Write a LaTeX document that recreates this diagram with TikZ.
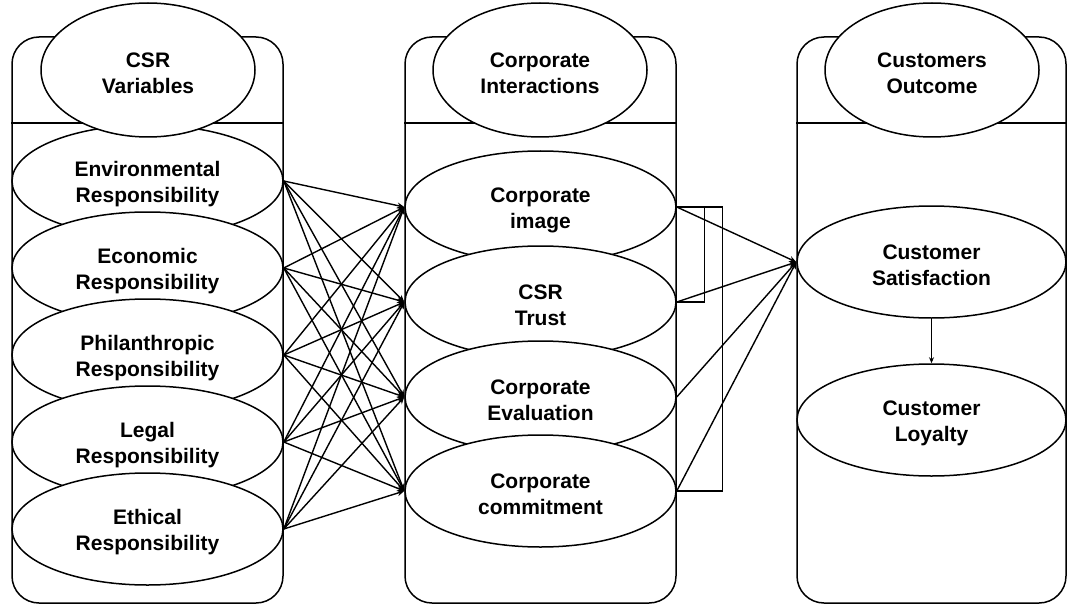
\documentclass[tikz,border=0pt]{standalone}
\usepackage{fontspec}
\setmainfont{Liberation Sans}
\usetikzlibrary{shapes.geometric,arrows.meta}
\newcommand\lift{\rule{0pt}{22pt}}
\begin{document}
\begin{tikzpicture}[x=1pt,y=-1pt,
  lane/.style={draw,line width=1.5pt,rounded corners=27pt,minimum width=271pt,minimum height=566pt,inner sep=0pt},
  txt/.style={align=center,font=\fontsize{21}{26}\selectfont\bfseries},
  hdr/.style={ellipse,draw,fill=white,line width=1.5pt,minimum width=214pt,minimum height=134pt,inner sep=0pt,txt},
  item/.style={ellipse,draw,fill=white,line width=1.5pt,minimum width=271pt,minimum height=112pt,inner sep=0pt,txt},
  conn/.style={line width=1.4pt,-{Stealth[length=7pt,width=6pt]}},
  plain/.style={line width=1.4pt}]
\useasboundingbox (0,0) rectangle (1067,604);
% lanes
\node[lane] (laneA) at (147.5,320) {};
\node[lane] (laneB) at (540.5,320) {};
\node[lane,minimum width=269pt] (laneC) at (931.5,320) {};
\foreach \l in {laneA,laneB,laneC}{
  \draw[line width=1.5pt] (\l.west |- 0,123) -- (\l.east |- 0,123);
}
% left column
\node[item] (L1) at (147.5,181) {\lift Environmental\\Responsibility};
\node[hdr] (HA) at (148,70) {\lift CSR\\Variables};
\node[item] (L2) at (147.5,268) {\lift Economic\\Responsibility};
\node[item] (L3) at (147.5,355) {\lift Philanthropic\\Responsibility};
\node[item] (L4) at (147.5,442) {\lift Legal\\Responsibility};
\node[item] (L5) at (147.5,529) {\lift Ethical\\Responsibility};
% middle column
\node[hdr] (HB) at (540,70) {\lift Corporate\\Interactions};
\node[item] (M1) at (540.5,207) {\lift Corporate\\image};
\node[item] (M2) at (540.5,302) {\lift CSR\\Trust};
\node[item] (M3) at (540.5,397) {\lift Corporate\\Evaluation};
\node[item] (M4) at (540.5,491) {\lift Corporate\\commitment};
% right column
\node[hdr] (HC) at (932,70) {\lift Customers\\Outcome};
\node[item,minimum width=269pt] (S) at (931.5,262) {\lift Customer\\Satisfaction};
\node[item,minimum width=269pt] (Y) at (931.5,420) {\lift Customer\\Loyalty};
% connectors
\foreach \i in {1,...,5}{
  \foreach \j in {1,...,4}{
    \draw[conn] (L\i.east) -- (M\j.west);
  }
}
\foreach \j in {1,...,4}{
  \draw[conn] (M\j.east) -- (S.west);
}
\draw[plain] (M1.east) -- ++(46,0) |- (M4.east);
\draw[plain] (M1.east) -- ++(28,0) |- (M2.east);
\draw[line width=1.2pt,-{Stealth[length=6pt,width=5pt]}] (S.south) -- (Y.north);
\end{tikzpicture}
\end{document}
